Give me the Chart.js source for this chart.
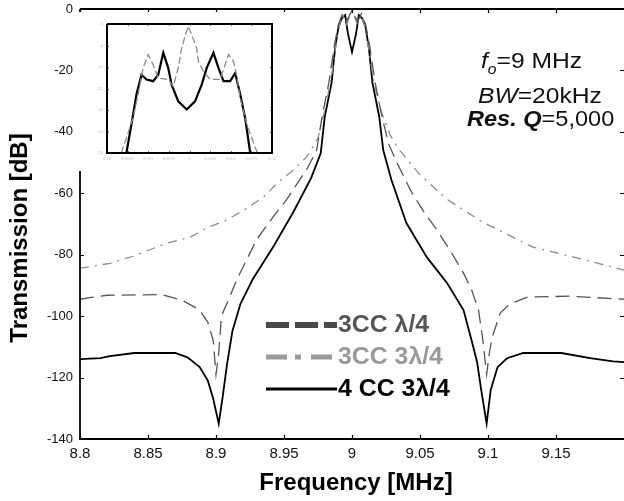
<!DOCTYPE html>
<html>
<head>
<meta charset="utf-8">
<script src="https://cdn.jsdelivr.net/npm/chart.js@4.4.1/dist/chart.umd.min.js"></script>
<style>
  html, body { margin: 0; padding: 0; background: #fff; overflow: hidden; }
  #wrap { position: relative; width: 624px; height: 501px; }
  #main { position: absolute; left: 0; top: 0; }
  #inset { position: absolute; left: 76px; top: 12px; background: #fff; }
</style>
</head>
<body>
<div id="wrap">
  <canvas id="main" width="624" height="501"></canvas>
  <canvas id="inset" width="214" height="159"></canvas>
</div>
<script>
// main plot: frequency (MHz) / transmission (dB)
const xTicks = [8.8, 8.85, 8.9, 8.95, 9, 9.05, 9.1, 9.15];
const yTicks = [0, -20, -40, -60, -80, -100, -120, -140];

const labels = ['3CC \u03bb/4', '3CC 3\u03bb/4', '4 CC 3\u03bb/4'];

const fDash = [8.80, 8.807, 8.82, 8.86, 8.875, 8.888, 8.894, 8.898, 8.900, 8.902, 8.904, 8.910, 8.9154,
  8.930, 8.942, 8.952, 8.967, 8.974, 8.978, 8.983, 8.987, 8.990, 8.993, 8.996, 9.0, 9.004, 9.007,
  9.010, 9.013, 9.017, 9.022, 9.027, 9.033, 9.043, 9.052, 9.0625, 9.072, 9.082, 9.088, 9.093, 9.096,
  9.099, 9.101, 9.103, 9.109, 9.116, 9.129, 9.16, 9.2];
const dbDash = [-94.5, -94, -93.2, -93, -94.8, -98, -102, -108, -119, -112, -100, -93.8, -88,
  -75, -67.7, -62, -52, -46, -35, -24, -12, -5, -1.5, -4, -0.5, -4, -1.5,
  -5, -12, -24, -35, -44, -50, -59, -65.5, -72, -78.5, -86, -91.5, -98, -107,
  -119, -112, -107, -99, -96, -93.8, -93.5, -94.5];

const fDashDot = [8.80, 8.822, 8.839, 8.864, 8.881, 8.893, 8.908, 8.923, 8.935, 8.945, 8.957, 8.967,
  8.975, 8.98, 8.985, 8.988, 8.991, 8.993, 8.996, 9.0, 9.004, 9.007, 9.009, 9.012, 9.016, 9.022,
  9.028, 9.035, 9.05, 9.07, 9.096, 9.133, 9.165, 9.2];
const dbDashDot = [-84.4, -82.8, -80.5, -76.2, -74.3, -71.3, -68.7, -64.8, -61.2, -56.7, -52.4, -48,
  -42, -33, -22, -12, -5, -2, -5, -0.3, -5, -2, -5, -12, -24, -34,
  -41, -46, -54, -62, -69.4, -77.5, -81, -85];

const fSolid = [8.80, 8.815, 8.822, 8.84, 8.87, 8.879, 8.888, 8.894, 8.898, 8.902, 8.905, 8.908,
  8.912, 8.918, 8.927, 8.942, 8.957, 8.970, 8.977, 8.980, 8.985, 8.9875, 8.990, 8.9925, 8.995,
  8.997, 9.0, 9.003, 9.005, 9.0075, 9.010, 9.0125, 9.015, 9.020, 9.023, 9.029, 9.040, 9.055,
  9.070, 9.082, 9.088, 9.092, 9.095, 9.099, 9.102, 9.107, 9.114, 9.126, 9.154, 9.175, 9.192, 9.2];
const dbSolid = [-114, -113.7, -113, -112, -112, -113.4, -116.6, -121, -127, -135, -126, -116,
  -105, -96, -88, -77.5, -66, -55, -47, -35, -24, -13, -6, -3, -2,
  -8, -14, -8, -2, -3, -6, -13, -24, -35, -46, -55.7, -69.7, -80.8,
  -89.3, -98, -108, -115, -124, -135, -124, -116.6, -113.7, -112, -112, -113.7, -114.7, -115];

// inset: passband close-up
const insetXTicks = [8.99, 8.9925, 8.995, 8.9975, 9, 9.0025, 9.005, 9.0075, 9.01];
const insetYTicks = [0, -5, -10, -15, -20, -25, -30];

const fInGray = [8.99174, 8.99235, 8.99316, 8.99377, 8.99438, 8.99499, 8.9956, 8.99621, 8.99742,
  8.99803, 8.99864, 8.99905, 8.99945, 8.99986, 9.00026, 9.00087, 9.00108, 9.00168, 9.0025,
  9.00371, 9.00473, 9.00533, 9.00574, 9.00615, 9.00696, 9.00797, 9.00826];
const dbInGray = [-30, -26.5, -21.9, -16.4, -10.2, -7.1, -9.5, -12.6, -12.9,
  -14.5, -10.2, -5.6, -2.9, -0.5, -2.5, -5.6, -8.7, -11, -12.9,
  -12.9, -7.1, -8.7, -12.2, -17.2, -23.4, -28.8, -30];

const fInBlack = [8.99235, 8.99296, 8.99357, 8.99418, 8.99479, 8.9956, 8.99621, 8.99682, 8.99742,
  8.99783, 8.99864, 8.99966, 9.00067, 9.00148, 9.00209, 9.0029, 9.00351, 9.00412, 9.00493,
  9.00554, 9.00615, 9.00675, 9.00736];
const dbInBlack = [-30, -23.4, -16.4, -11.8, -12.9, -13.3, -11.8, -6.7, -10.2,
  -14.1, -18, -19.9, -18, -14.1, -10.2, -6.7, -10.2, -13.3, -13.3,
  -11.4, -16.4, -21.9, -30];

const pts = (xs, ys) => xs.map((x, i) => ({ x, y: ys[i] }));
const FAM = 'Arial, "Liberation Sans", sans-serif';

// box + inward ticks on all four sides (matlab look)
const frame = {
  id: 'frame',
  afterDraw(chart, args, opts) {
    const { ctx, chartArea: a, scales } = chart;
    const t = opts.tick;
    ctx.save();
    ctx.strokeStyle = '#000';
    ctx.lineWidth = opts.width;
    ctx.beginPath();
    ctx.moveTo(a.left, a.top);
    ctx.lineTo(a.right, a.top);
    if (opts.right) {
      ctx.lineTo(a.right, a.bottom);
    } else {
      ctx.moveTo(a.right, a.bottom);
    }
    ctx.lineTo(a.left, a.bottom);
    ctx.lineTo(a.left, a.top);
    ctx.stroke();
    ctx.lineWidth = opts.tickWidth;
    ctx.beginPath();
    scales.x.ticks.forEach((tk) => {
      const px = Math.round(scales.x.getPixelForValue(tk.value)) + 0.5;
      ctx.moveTo(px, a.bottom); ctx.lineTo(px, a.bottom - t);
      ctx.moveTo(px, a.top); ctx.lineTo(px, a.top + t);
    });
    scales.y.ticks.forEach((tk) => {
      const py = Math.round(scales.y.getPixelForValue(tk.value)) + 0.5;
      ctx.moveTo(a.left, py); ctx.lineTo(a.left + t, py);
      ctx.moveTo(a.right, py); ctx.lineTo(a.right - t, py);
    });
    ctx.stroke();
    ctx.restore();
  },
};

function textRun(ctx, parts, x, y, sx) {
  // parts: [text, font, dy]; sx stretches horizontally
  ctx.save();
  ctx.translate(x, y);
  ctx.scale(sx, 1);
  let cx = 0;
  parts.forEach(([s, font, dy]) => {
    ctx.font = font;
    ctx.fillText(s, cx, dy || 0);
    cx += ctx.measureText(s).width;
  });
  ctx.restore();
}

const notes = {
  id: 'notes',
  afterDraw(chart) {
    const { ctx } = chart;
    ctx.save();
    ctx.fillStyle = '#000';
    ctx.textBaseline = 'alphabetic';

    // axis titles
    ctx.font = 'bold 24px ' + FAM;
    ctx.textAlign = 'center';
    ctx.fillText('Frequency [MHz]', 356, 490);
    ctx.translate(27, 238);
    ctx.rotate(-Math.PI / 2);
    ctx.fillText('Transmission [dB]', 0, 0);
    ctx.setTransform(1, 0, 0, 1, 0, 0);
    ctx.textAlign = 'left';

    // parameters
    ctx.fillStyle = '#111';
    textRun(ctx, [['f', 'italic 22px ' + FAM], ['o', 'italic 14px ' + FAM, 6], ['=9 MHz', '22px ' + FAM]], 481, 68, 1.12);
    textRun(ctx, [['BW', 'italic 22px ' + FAM], ['=20kHz', '22px ' + FAM]], 478, 103, 1.12);
    textRun(ctx, [['Res. Q', 'italic bold 22px ' + FAM], ['=5,000', '22px ' + FAM]], 467, 126, 1.07);

    // legend
    const ds = chart.data.datasets;
    const rows = [
      { y: 325, color: '#4a4a4a', dash: [23, 6], w: 6, text: '#555' },
      { y: 357, color: '#9a9a9a', dash: [21, 8, 6, 10], w: 5, text: '#999' },
      { y: 389, color: '#000', dash: [], w: 3, text: '#000' },
    ];
    rows.forEach((r, i) => {
      ctx.strokeStyle = r.color;
      ctx.lineWidth = r.w;
      ctx.setLineDash(r.dash);
      ctx.beginPath();
      ctx.moveTo(266, r.y);
      ctx.lineTo(337, r.y);
      ctx.stroke();
      ctx.setLineDash([]);
      ctx.fillStyle = r.text;
      ctx.textBaseline = 'middle';
      textRun(ctx, [[ds[i].label, 'bold 23px ' + FAM]], 338, r.y + 1, 1.08);
    });
    ctx.restore();
  },
};

const noPad = (scale) => {
  scale.paddingTop = 0;
  scale.paddingBottom = 0;
  scale.paddingLeft = 0;
  scale.paddingRight = 0;
};

const mainChart = new Chart(document.getElementById('main'), {
  type: 'line',
  data: {
    datasets: [
      {
        label: labels[0],
        data: pts(fDash, dbDash),
        borderColor: '#555',
        borderWidth: 1.3,
        borderDash: [14, 7],
      },
      {
        label: labels[1],
        data: pts(fDashDot, dbDashDot),
        borderColor: '#8c8c8c',
        borderWidth: 1.3,
        borderDash: [9, 6, 2, 6],
      },
      {
        label: labels[2],
        data: pts(fSolid, dbSolid),
        borderColor: '#000',
        borderWidth: 1.8,
      },
    ],
  },
  options: {
    responsive: false,
    animation: false,
    events: [],
    layout: { padding: { top: 9, right: 0, left: 0, bottom: 0 } },
    elements: { point: { radius: 0 }, line: { tension: 0 } },
    plugins: {
      legend: { display: false },
      tooltip: { enabled: false },
      frame: { width: 1.8, tick: 4, tickWidth: 1.2, right: false },
    },
    scales: {
      x: {
        type: 'linear',
        min: 8.8,
        max: 9.2,
        afterBuildTicks(scale) {
          scale.ticks = xTicks.map((v) => ({ value: v }));
        },
        afterFit(scale) {
          scale.height = 62;
          noPad(scale);
        },
        grid: { display: false, drawTicks: false },
        border: { display: false },
        ticks: {
          padding: 6,
          maxRotation: 0,
          autoSkip: false,
          color: '#111',
          font: { family: FAM, size: 15 },
          callback: (v) => String(+v.toFixed(3)),
        },
      },
      y: {
        min: -140,
        max: 0,
        afterBuildTicks(scale) {
          scale.ticks = yTicks.map((v) => ({ value: v }));
        },
        afterFit(scale) {
          scale.width = 80;
          noPad(scale);
        },
        grid: { display: false, drawTicks: false },
        border: { display: false },
        ticks: {
          padding: 7,
          color: '#111',
          font: { family: FAM, size: 13 },
        },
      },
    },
  },
  plugins: [frame, notes],
});

const insetChart = new Chart(document.getElementById('inset'), {
  type: 'line',
  data: {
    datasets: [
      {
        label: labels[1],
        data: pts(fInGray, dbInGray),
        borderColor: '#8a8a8a',
        borderWidth: 1.3,
        borderDash: [7, 3],
      },
      {
        label: labels[2],
        data: pts(fInBlack, dbInBlack),
        borderColor: '#000',
        borderWidth: 2.2,
      },
    ],
  },
  options: {
    responsive: false,
    animation: false,
    events: [],
    layout: { padding: { top: 12, right: 18, left: 0, bottom: 0 } },
    elements: { point: { radius: 0 }, line: { tension: 0 } },
    plugins: {
      legend: { display: false },
      tooltip: { enabled: false },
      frame: { width: 2, tick: 2, tickWidth: 0.6, right: true },
    },
    scales: {
      x: {
        type: 'linear',
        min: 8.99,
        max: 9.01,
        afterBuildTicks(scale) {
          scale.ticks = insetXTicks.map((v) => ({ value: v }));
        },
        afterFit(scale) {
          scale.height = 18;
          noPad(scale);
        },
        grid: { display: false, drawTicks: false },
        border: { display: false },
        ticks: {
          padding: 3,
          maxRotation: 0,
          autoSkip: false,
          color: '#bbb',
          font: { size: 4 },
          callback: (v) => String(+v.toFixed(4)),
        },
      },
      y: {
        min: -30,
        max: 0,
        afterBuildTicks(scale) {
          scale.ticks = insetYTicks.map((v) => ({ value: v }));
        },
        afterFit(scale) {
          scale.width = 31;
          noPad(scale);
        },
        grid: { display: false, drawTicks: false },
        border: { display: false },
        ticks: { padding: 4, color: '#bbb', font: { size: 4 } },
      },
    },
  },
  plugins: [frame],
});
</script>
</body>
</html>
